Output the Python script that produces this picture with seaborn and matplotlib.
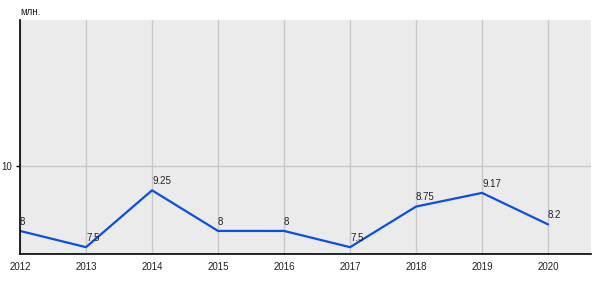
import matplotlib
matplotlib.use("Agg")
import matplotlib.pyplot as plt
import seaborn as sns
import pandas as pd

years = [2012, 2013, 2014, 2015, 2016, 2017, 2018, 2019, 2020]
values = [8, 7.5, 9.25, 8, 8, 7.5, 8.75, 9.17, 8.2]
labels = ["8", "7.5", "9.25", "8", "8", "7.5", "8.75", "9.17", "8.2"]
y_ticks = [10]
unit_label = "млн."

sns.set_theme(style="white")
plt.rcParams['font.family'] = ['Liberation Sans', 'DejaVu Sans']

df = pd.DataFrame({"year": years, "value": values})

fig = plt.figure(figsize=(6, 3), dpi=100)
ax = fig.add_axes([20/600, 46/300, 571/600, 234/300])
ax.set_facecolor("#EBEBEB")

sns.lineplot(data=df, x="year", y="value", ax=ax, color="#0A4FE6", linewidth=1.6, zorder=3)

ax.set_xlim(2012, 2020.65)
ax.set_ylim(7.29, 14.49)
ax.set_xticks(years)
ax.set_xticklabels([str(y) for y in years])
ax.set_yticks(y_ticks)
ax.set_yticklabels([str(t) for t in y_ticks])
ax.grid(True, color="#C8C8C8", linewidth=1)
ax.set_axisbelow(True)
ax.set_xlabel("")
ax.set_ylabel("")

for s in ["top", "right"]:
    ax.spines[s].set_visible(False)
for s in ["left", "bottom"]:
    ax.spines[s].set_color("black")
    ax.spines[s].set_linewidth(1.2)
    ax.spines[s].set_zorder(4)

ax.tick_params(axis="x", length=0, pad=6, labelsize=7, colors="#222222")
ax.tick_params(axis="y", length=3, width=1, color="black", pad=3, labelsize=7, labelcolor="#222222", left=True)

for x, y, t in zip(years, values, labels):
    ax.annotate(t, (x, y), xytext=(0, 3), textcoords="offset points",
                ha="left", va="bottom", fontsize=7, color="#222222", zorder=5)

fig.text(20/600, 1 - 12/300, unit_label, ha="left", va="center", fontsize=7, color="#222222")

fig.savefig("out.png", dpi=100)
